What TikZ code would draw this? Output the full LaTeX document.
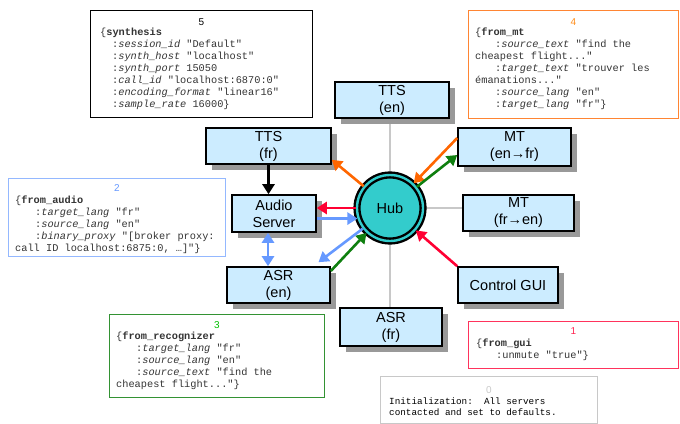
\documentclass[tikz,border=0pt]{standalone}
\usepackage{fontspec}
\setmainfont{Liberation Sans}
\setmonofont{Liberation Mono}
\usepackage{xcolor}
\usetikzlibrary{arrows.meta,shadows,backgrounds}

\definecolor{serverfill}{HTML}{CCECFF}
\definecolor{hubfill}{HTML}{33CCCC}
\definecolor{mtorange}{HTML}{FF6600}
\definecolor{asrgreen}{HTML}{0F7F0F}
\definecolor{guired}{HTML}{FF0033}
\definecolor{audioblue}{HTML}{6699FF}
\definecolor{wiregray}{HTML}{C8C8C8}
\definecolor{codegray}{HTML}{333333}

\newcommand{\msgkey}[1]{\textit{#1}}
\newcommand{\msgind}[1][20pt]{\hspace*{#1}}

\begin{document}
\begin{tikzpicture}[x=1pt,y=-1pt,
    server/.style={draw=black, line width=1.6pt, fill=serverfill, align=center,
      font=\fontsize{14.5}{17}\selectfont, inner sep=0pt,
      drop shadow={shadow xshift=6pt, shadow yshift=-6pt, fill=black!40, opacity=1}},
    flow/.style={line width=2.6pt, -{Triangle[length=10pt,width=12pt]}},
    wire/.style={line width=2.6pt, draw=wiregray},
    msgbox/.style={draw=#1, line width=0.8pt, anchor=north west, inner sep=0pt},
    numlabel/.style={text=#1, font=\fontsize{10}{12}\selectfont, inner sep=0pt},
    msgtext/.style={font=\ttfamily\fontsize{10.3}{12}\selectfont, text=codegray,
      align=left, inner sep=0pt, anchor=north west}]
  \useasboundingbox (0,0) rectangle (680,423);

  \node[server, minimum width=114pt, minimum height=36pt] (ttsen) at (392,100) {TTS\\(en)};
  \node[server, minimum width=125pt, minimum height=36pt] (ttsfr) at (268.5,146) {TTS\\(fr)};
  \node[server, minimum width=84pt, minimum height=37pt] (audio) at (274,213.5) {Audio\\Server};
  \node[server, minimum width=103pt, minimum height=36pt] (asren) at (278.5,285) {ASR\\(en)};
  \node[server, minimum width=102pt, minimum height=38pt] (asrfr) at (391,327) {ASR\\(fr)};
  \node[server, minimum width=113pt, minimum height=38pt] (mtenfr) at (514.5,147) {MT\\(en→fr)};
  \node[server, minimum width=111pt, minimum height=36pt] (mtfren) at (518.5,213) {MT\\(fr→en)};
  \node[server, minimum width=100pt, minimum height=36pt] (gui) at (508,285) {Control GUI};
  \node[circle, draw=black, line width=2.4pt, double=hubfill, double distance=2.4pt,
    fill=hubfill, minimum size=66pt, font=\fontsize{14.5}{17}\selectfont] (hub) at (390,208) {Hub};

  \begin{scope}[on background layer]
    \draw[wire] (hub.north) -- (hub.north |- ttsen.south);
    \draw[wire] (hub.south) -- (hub.south |- asrfr.north);
    \draw[wire] (hub.east) -- (hub.east -| mtfren.west);
  \end{scope}

  \draw[flow, mtorange] (hub) -- ([yshift=5pt]ttsfr.south east);
  \draw[flow, mtorange] ([yshift=9pt]mtenfr.west) -- (hub);
  \draw[flow, asrgreen] (hub) -- ([yshift=-8pt]mtenfr.west);
  \draw[flow, asrgreen] ([yshift=14pt]asren.east) -- (hub);
  \draw[flow, guired] (hub.west) -- (hub.west -| audio.east);
  \draw[flow, guired] (gui.north west) -- (hub);
  \draw[flow, audioblue] (hub.198 -| audio.east) -- (hub.198);
  \draw[flow, audioblue] (hub) -- ([xshift=40pt,yshift=4pt]asren.north);
  \draw[flow, audioblue, {Triangle[length=10pt,width=12pt]}-{Triangle[length=10pt,width=12pt]}]
    ([xshift=-6pt]audio.south) -- ([xshift=-6pt]audio.south |- asren.north);
  \draw[flow, black] (ttsfr.south) -- (ttsfr.south |- audio.north);

  \node[msgbox=black, minimum width=222pt, minimum height=107pt] (synthbox) at (90,10) {};
  \node[numlabel=black] (synthnum) at ([yshift=-12pt]synthbox.north) {5};
  \node[msgtext] (synthmsg) at ([xshift=10pt,yshift=-18pt]synthbox.north west)
    {\{\textbf{synthesis}\\
     \msgind[12pt]:\msgkey{session\_id} "Default"\\
     \msgind[12pt]:\msgkey{synth\_host} "localhost"\\
     \msgind[12pt]:\msgkey{synth\_port} 15050\\
     \msgind[12pt]:\msgkey{call\_id} "localhost:6870:0"\\
     \msgind[12pt]:\msgkey{encoding\_format} "linear16"\\
     \msgind[12pt]:\msgkey{sample\_rate} 16000\}};

  \node[msgbox=mtorange!80, minimum width=210pt, minimum height=108pt] (mtbox) at (468,10) {};
  \node[numlabel=orange!90] (mtnum) at ([yshift=-12pt]mtbox.north) {4};
  \node[msgtext] (mtmsg) at ([xshift=7pt,yshift=-18pt]mtbox.north west)
    {\{\textbf{from\_mt}\\
     \msgind:\msgkey{source\_text} "find the\\
     cheapest flight..."\\
     \msgind:\msgkey{target\_text} "trouver les\\
     émanations..."\\
     \msgind:\msgkey{source\_lang} "en"\\
     \msgind:\msgkey{target\_lang} "fr"\}};

  \node[msgbox=audioblue!70, minimum width=217pt, minimum height=78pt] (audiobox) at (8,178) {};
  \node[numlabel=audioblue] (audionum) at ([yshift=-10pt]audiobox.north) {2};
  \node[msgtext] (audiomsg) at ([xshift=7pt,yshift=-18pt]audiobox.north west)
    {\{\textbf{from\_audio}\\
     \msgind:\msgkey{target\_lang} "fr"\\
     \msgind:\msgkey{source\_lang} "en"\\
     \msgind:\msgkey{binary\_proxy} "[broker proxy:\\
     call ID localhost:6875:0, …]"\}};

  \node[msgbox=asrgreen!85, minimum width=215pt, minimum height=83pt] (asrbox) at (109,314) {};
  \node[numlabel=green!75!black] (asrnum) at ([yshift=-11pt]asrbox.north) {3};
  \node[msgtext] (asrmsg) at ([xshift=7pt,yshift=-18pt]asrbox.north west)
    {\{\textbf{from\_recognizer}\\
     \msgind:\msgkey{target\_lang} "fr"\\
     \msgind:\msgkey{source\_lang} "en"\\
     \msgind:\msgkey{source\_text} "find the\\
     cheapest flight..."\}};

  \node[msgbox=guired!80, minimum width=210pt, minimum height=47pt] (guibox) at (468,321) {};
  \node[numlabel=guired!85] (guinum) at ([yshift=-10pt]guibox.north) {1};
  \node[msgtext] (guimsg) at ([xshift=8pt,yshift=-18pt]guibox.north west)
    {\{\textbf{from\_gui}\\
     \msgind:unmute "true"\}};

  \node[msgbox=wiregray, minimum width=217pt, minimum height=47pt] (initbox) at (380,376) {};
  \node[numlabel=wiregray] (initnum) at ([yshift=-14pt]initbox.north) {0};
  \node[msgtext, font=\ttfamily\fontsize{9.3}{10.5}\selectfont, text=black] (initmsg)
    at ([xshift=9pt,yshift=-22pt]initbox.north west)
    {Initialization:\ \ All servers\\
     contacted and set to defaults.};
\end{tikzpicture}
\end{document}
